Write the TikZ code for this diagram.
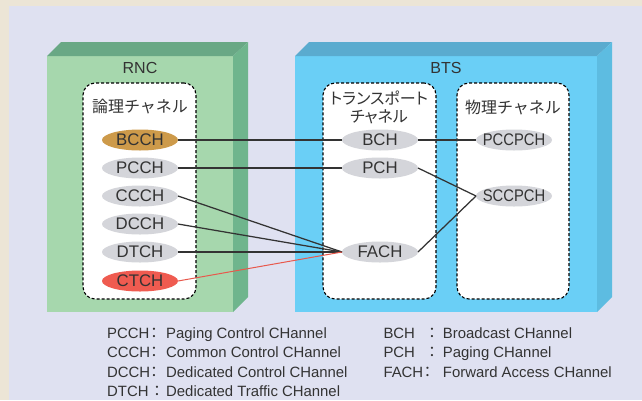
\documentclass[tikz,border=0pt]{standalone}
\usepackage{graphicx}
\usepackage{fontspec}
\setmainfont{Liberation Sans}
\newfontfamily\jpfont{Noto Sans CJK JP}
\newfontfamily\jpprop{Noto Sans CJK JP}[RawFeature=+palt]
\usetikzlibrary{shapes.geometric}

\definecolor{paper}{HTML}{ECE5D6}
\definecolor{panel}{HTML}{DFE1F1}
\definecolor{ink}{HTML}{333333}
\definecolor{rncfront}{HTML}{A6D7AD}
\definecolor{rnctop}{HTML}{69A885}
\definecolor{rncside}{HTML}{6FB58D}
\definecolor{btsfront}{HTML}{6ACFF6}
\definecolor{btstop}{HTML}{5AABCF}
\definecolor{btsside}{HTML}{5DBCE1}
\definecolor{chgrey}{HTML}{D4D5DA}
\definecolor{chgold}{HTML}{CD9A4A}
\definecolor{chred}{HTML}{EF5B50}
\definecolor{redline}{HTML}{E8584C}

% narrow set for the long physical channel names
\newcommand{\narrowname}[1]{\scalebox{0.88}[1]{#1}}

\tikzset{
  chan/.style={ellipse, minimum width=76pt, minimum height=21pt, inner sep=0pt,
    outer sep=0pt, label={[font=\fontsize{16.8}{16.8}\selectfont, text=ink, inner sep=0pt]center:#1}},
  dbox/.style={draw=black, line width=1.1pt, dash pattern=on 3pt off 2pt,
    fill=white, rounded corners=12pt, inner sep=0pt},
  link/.style={draw=ink, line width=1.25pt},
  redlink/.style={draw=redline, line width=1pt},
  title/.style={font=\fontsize{16}{16}\selectfont, text=ink, inner sep=0pt},
  jtitle/.style={font=\jpfont\fontsize{16}{19}\selectfont, text=ink, inner sep=0pt},
  legend/.style={font=\fontsize{14.9}{14.9}\selectfont, text=ink, inner sep=0pt, anchor=base west},
  colon/.style={font=\jpfont\fontsize{14.9}{14.9}\selectfont, text=ink, inner sep=0pt, anchor=base}
}

\begin{document}
\begin{tikzpicture}[x=1pt,y=-1pt]
\useasboundingbox (0,0) rectangle (642,400);
\fill[paper] (0,0) rectangle (642,400);
\fill[panel] (9,6) rectangle (642,400);

% RNC block
\fill[rncfront] (47,56) rectangle (233,312);
\fill[rnctop] (47,56) -- (61,42) -- (248,42) -- (233,56) -- cycle;
\fill[rncside] (233,56) -- (248,42) -- (248,297) -- (233,312) -- cycle;
\node[title] (rnc) at (140,68) {RNC};

% BTS block
\fill[btsfront] (295,56) rectangle (597,312);
\fill[btstop] (295,56) -- (309,42) -- (612,42) -- (597,56) -- cycle;
\fill[btsside] (597,56) -- (612,42) -- (612,297) -- (597,312) -- cycle;
\node[title] (bts) at (446,68) {BTS};

% channel groups
\node[dbox, minimum width=113pt, minimum height=216pt] (logical) at (139.5,191) {};
\node[dbox, minimum width=113pt, minimum height=216pt] (transport) at (379.5,191) {};
\node[dbox, minimum width=112pt, minimum height=216pt] (physical) at (513,191) {};

\node[jtitle] (logicalt) at (140,107) {論理チャネル};
\node[jtitle, font=\jpprop\fontsize{16}{19}\selectfont] (transportt1) at (379,98) {トランスポート};
\node[jtitle, font=\jpprop\fontsize{16}{19}\selectfont] (transportt2) at (379,117) {チャネル};
\node[jtitle] (physicalt) at (513,107) {物理チャネル};

% logical channels
\node[chan=BCCH, fill=chgold] (bcch) at (140,140) {};
\node[chan=PCCH, fill=chgrey] (pcch) at (140,168) {};
\node[chan=CCCH, fill=chgrey] (ccch) at (140,196) {};
\node[chan=DCCH, fill=chgrey] (dcch) at (140,224) {};
\node[chan=DTCH, fill=chgrey] (dtch) at (140,252) {};
\node[chan=CTCH, fill=chred] (ctch) at (140,281) {};

% transport channels
\node[chan=BCH, fill=chgrey] (bch) at (380,140) {};
\node[chan=PCH, fill=chgrey] (pch) at (380,168) {};
\node[chan=FACH, fill=chgrey] (fach) at (380,252) {};

% physical channels
\node[chan={{\narrowname{PCCPCH}}}, fill=chgrey] (pccpch) at (514,140) {};
\node[chan={{\narrowname{SCCPCH}}}, fill=chgrey] (sccpch) at (514,196) {};

% mappings
\draw[link] (bcch.east) -- (bch.west);
\draw[link] (bch.east) -- (pccpch.west);
\draw[link] (pcch.east) -- (pch.west);
\draw[link] (ccch.east) -- (fach.west);
\draw[link] (dcch.east) -- (fach.west);
\draw[link] (dtch.east) -- (fach.west);
\draw[redlink] (ctch.east) -- (fach.west);
\draw[link] (pch.east) -- (sccpch.west);
\draw[link] (fach.east) -- (sccpch.west);

% legend
\node[legend] (l1a) at (107,338.3) {PCCH};
\node[colon] (l1c) at (154,338.3) {：};
\node[legend] (l1d) at (166,338.3) {Paging Control CHannel};
\node[legend] (l2a) at (107,357.8) {CCCH};
\node[colon] (l2c) at (154,357.8) {：};
\node[legend] (l2d) at (166,357.8) {Common Control CHannel};
\node[legend] (l3a) at (107,377.3) {DCCH};
\node[colon] (l3c) at (154,377.3) {：};
\node[legend] (l3d) at (166,377.3) {Dedicated Control CHannel};
\node[legend] (l4a) at (107,396.8) {DTCH};
\node[colon] (l4c) at (157,396.8) {：};
\node[legend] (l4d) at (166,396.8) {Dedicated Traffic CHannel};

\node[legend] (r1a) at (383.3,338.3) {BCH};
\node[colon] (r1c) at (432,338.3) {：};
\node[legend] (r1d) at (442.7,338.3) {Broadcast CHannel};
\node[legend] (r2a) at (383.3,357.8) {PCH};
\node[colon] (r2c) at (432,357.8) {：};
\node[legend] (r2d) at (442.7,357.8) {Paging CHannel};
\node[legend] (r3a) at (383.3,377.3) {FACH};
\node[colon] (r3c) at (427.5,377.3) {：};
\node[legend] (r3d) at (442.7,377.3) {Forward Access CHannel};
\end{tikzpicture}
\end{document}
